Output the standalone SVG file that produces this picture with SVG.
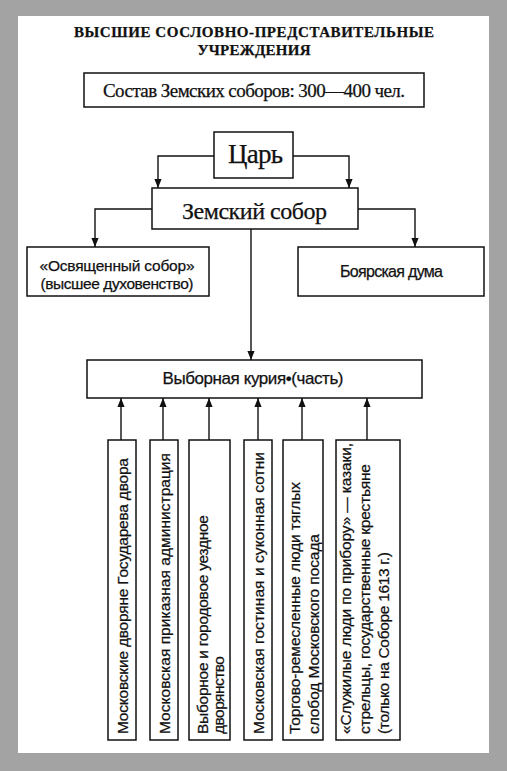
<svg xmlns="http://www.w3.org/2000/svg" width="507" height="771" viewBox="0 0 507 771">
<defs>
<style>
.box{fill:#fff;stroke:#111;stroke-width:1.5}
.ln{fill:none;stroke:#111;stroke-width:1.4;marker-end:url(#ah)}
text{stroke:#111;stroke-width:0.25}
.serif{font-family:"Liberation Serif","Times New Roman",serif;fill:#111}
.sans{font-family:"Liberation Sans",Arial,sans-serif;fill:#111}
.v{font-family:"Liberation Sans",Arial,sans-serif;fill:#111;font-size:15.5px}
</style>
<marker id="ah" viewBox="0 0 10 8" refX="10" refY="4" markerWidth="9" markerHeight="7.5" markerUnits="userSpaceOnUse" orient="auto">
<path d="M0,0 L10,4 L0,8 z" fill="#111"/>
</marker>
</defs>
<rect x="0" y="0" width="507" height="771" fill="#a3a3a3"/>
<rect x="18" y="16" width="471" height="737" fill="#fff"/>

<g id="title">
<text class="serif" x="254" y="37" font-size="15" font-weight="bold" text-anchor="middle" textLength="360">ВЫСШИЕ СОСЛОВНО-ПРЕДСТАВИТЕЛЬНЫЕ</text>
<text class="serif" x="254" y="55" font-size="15" font-weight="bold" text-anchor="middle" textLength="113">УЧРЕЖДЕНИЯ</text>
</g>

<g id="sostav">
<rect class="box" x="84" y="73" width="340" height="34"/>
<text class="serif" x="254" y="97" font-size="19" text-anchor="middle" textLength="302">Состав Земских соборов: 300—400 чел.</text>
</g>

<g id="connectors">
<path class="ln" d="M214,156 H158 V188"/>
<path class="ln" d="M293,156 H349 V188"/>
<path class="ln" d="M152,209 H95 V247"/>
<path class="ln" d="M358,209 H415 V247"/>
<path class="ln" d="M251,229 V360"/>
<path class="ln" d="M121,440 V398"/>
<path class="ln" d="M163,440 V398"/>
<path class="ln" d="M209,440 V398"/>
<path class="ln" d="M258,440 V398"/>
<path class="ln" d="M302,440 V398"/>
<path class="ln" d="M367,440 V398"/>
</g>

<g id="tsar">
<rect class="box" x="214" y="132" width="79" height="46"/>
<text class="serif" x="255.5" y="163" font-size="27" text-anchor="middle" textLength="55">Царь</text>
</g>

<g id="zemsky">
<rect class="box" x="152" y="188" width="206" height="41"/>
<text class="serif" x="254.5" y="219" font-size="24" text-anchor="middle" textLength="145">Земский собор</text>
</g>

<g id="osvyash">
<rect class="box" x="27" y="247" width="182" height="49"/>
<text class="sans" x="117" y="271" font-size="15.5" text-anchor="middle" textLength="155">«Освященный собор»</text>
<text class="sans" x="117" y="289" font-size="15.5" text-anchor="middle" textLength="153">(высшее духовенство)</text>
</g>

<g id="boyar">
<rect class="box" x="298" y="247" width="186" height="49"/>
<text class="sans" x="391.5" y="277" font-size="16" text-anchor="middle" textLength="103">Боярская дума</text>
</g>

<g id="kuria">
<rect class="box" x="87" y="360" width="335" height="38"/>
<text class="sans" x="253" y="384" font-size="17" text-anchor="middle" textLength="181">Выборная курия•(часть)</text>
</g>

<g id="b1">
<rect class="box" x="108" y="440" width="28" height="300"/>
<text class="v" transform="translate(128,734) rotate(-90)" textLength="276">Московские дворяне Государева двора</text>
</g>
<g id="b2">
<rect class="box" x="150" y="440" width="28" height="300"/>
<text class="v" transform="translate(170,734) rotate(-90)" textLength="281">Московская приказная администрация</text>
</g>
<g id="b3">
<rect class="box" x="189" y="440" width="41" height="300"/>
<text class="v" transform="translate(208,734) rotate(-90)" textLength="219">Выборное и городовое уездное</text>
<text class="v" transform="translate(224,734) rotate(-90)" textLength="78">дворянство</text>
</g>
<g id="b4">
<rect class="box" x="244" y="440" width="28" height="300"/>
<text class="v" transform="translate(264,734) rotate(-90)" textLength="282">Московская гостиная и суконная сотни</text>
</g>
<g id="b5">
<rect class="box" x="283" y="440" width="40" height="300"/>
<text class="v" transform="translate(300,734) rotate(-90)" textLength="252">Торгово-ремесленные люди тяглых</text>
<text class="v" transform="translate(319,734) rotate(-90)" textLength="200">слобод Московского посада</text>
</g>
<g id="b6">
<rect class="box" x="336" y="440" width="64" height="300"/>
<text class="v" transform="translate(351,734) rotate(-90)" textLength="291">«Служилые люди по прибору» — казаки,</text>
<text class="v" transform="translate(370,734) rotate(-90)" textLength="270">стрельцы, государственные крестьяне</text>
<text class="v" transform="translate(389,734) rotate(-90)" textLength="182">(только на Соборе 1613 г.)</text>
</g>
</svg>
